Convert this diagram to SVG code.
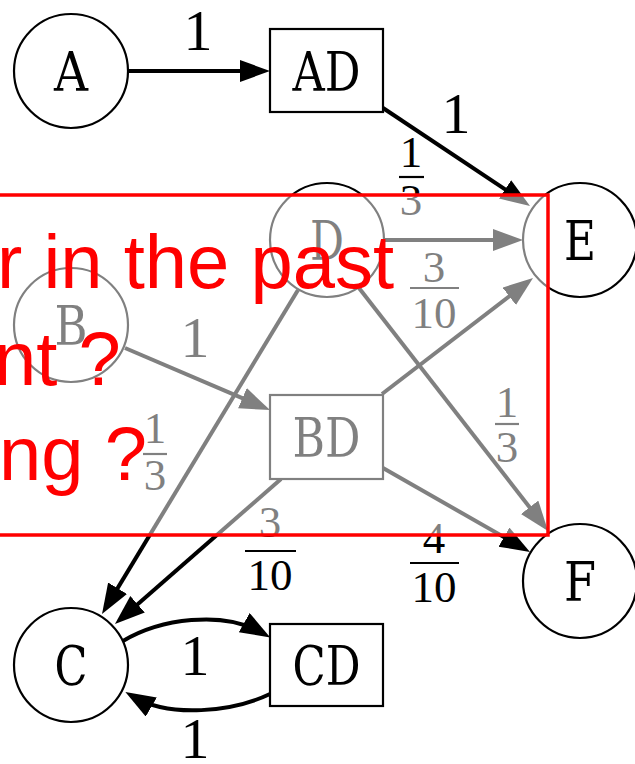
<svg xmlns="http://www.w3.org/2000/svg" width="635" height="764" viewBox="0 0 635 764">
<style>
.node circle, .node rect { fill: #fff; stroke: #000; stroke-width: 2.2; }
.node text { font-family: "DejaVu Serif", "Liberation Serif", serif; font-size: 54px; text-anchor: middle; fill: #000; }
.edge { fill: none; stroke: #000; stroke-width: 4; marker-end: url(#arrow); }
.lbl { font-family: "Liberation Serif", "DejaVu Serif", serif; fill: #000; text-anchor: middle; }
.big { font-size: 58px; }
.frac { font-size: 45px; }
.bar { stroke: #000; stroke-width: 2.2; }
.red { font-family: "Liberation Sans", Arial, sans-serif; font-size: 76px; fill: #ff0000; }
</style>
<defs>
<marker id="arrow" markerUnits="userSpaceOnUse" markerWidth="32" markerHeight="24" refX="20" refY="11" orient="auto">
<path d="M0,0 L30,11 L0,22 z" fill="#000"/>
</marker>
</defs>
<rect width="635" height="764" fill="#fff"/>
<g id="connectors">
<line class="edge" x1="128" y1="71" x2="260" y2="71"/>
<line class="edge" x1="383" y1="108" x2="521.7" y2="200.5"/>
<line class="edge" x1="384" y1="240" x2="513" y2="240"/>
<line class="edge" x1="382" y1="394" x2="525.1" y2="284.1"/>
<line class="edge" x1="359" y1="288" x2="541.9" y2="523.1"/>
<line class="edge" x1="383" y1="468" x2="521.3" y2="547"/>
<line class="edge" x1="298" y1="290" x2="107.2" y2="605.4"/>
<line class="edge" x1="281" y1="479" x2="122.5" y2="617.4"/>
<line class="edge" x1="125" y1="348" x2="260.8" y2="406.1"/>
<path class="edge" d="M123,641 C160,619 222,610 261.6,632.5"/>
<path class="edge" d="M270,694 C232,712 170,718 134,697"/>
<g id="edge-labels">
<text class="lbl big" x="198" y="50">1</text>
<text class="lbl big" x="456" y="133">1</text>
<text class="lbl frac" x="411" y="167">1</text>
<line class="bar" x1="399" y1="177" x2="424" y2="177"/>
<text class="lbl frac" x="411" y="215">3</text>
<text class="lbl frac" x="434" y="282">3</text>
<line class="bar" x1="410" y1="288" x2="459" y2="288"/>
<text class="lbl frac" x="434" y="328">10</text>
<text class="lbl frac" x="507" y="417">1</text>
<line class="bar" x1="495" y1="424" x2="519" y2="424"/>
<text class="lbl frac" x="507" y="462">3</text>
<text class="lbl frac" x="434" y="553">4</text>
<line class="bar" x1="410" y1="563" x2="459" y2="563"/>
<text class="lbl frac" x="434" y="602">10</text>
<text class="lbl frac" x="155" y="443">1</text>
<line class="bar" x1="143" y1="454" x2="167" y2="454"/>
<text class="lbl frac" x="155" y="490">3</text>
<text class="lbl frac" x="270" y="537">3</text>
<line class="bar" x1="245" y1="551" x2="296" y2="551"/>
<text class="lbl frac" x="270" y="590">10</text>
<text class="lbl big" x="195" y="357">1</text>
<text class="lbl big" x="195" y="675">1</text>
<text class="lbl big" x="195" y="758">1</text>
</g>
</g>
<g id="A" class="node"><circle cx="71" cy="71" r="57"/><text x="71" y="91" textLength="34" lengthAdjust="spacingAndGlyphs">A</text></g>
<g id="AD" class="node"><rect x="270" y="29" width="113" height="83"/><text x="326.5" y="91" textLength="68" lengthAdjust="spacingAndGlyphs">AD</text></g>
<g id="E" class="node"><circle cx="580" cy="240" r="57"/><text x="580" y="260" textLength="32" lengthAdjust="spacingAndGlyphs">E</text></g>
<g id="D" class="node"><circle cx="327" cy="240" r="57"/><text x="327" y="260" textLength="34" lengthAdjust="spacingAndGlyphs">D</text></g>
<g id="B" class="node"><circle cx="71" cy="325" r="57"/><text x="71" y="345" textLength="33" lengthAdjust="spacingAndGlyphs">B</text></g>
<g id="BD" class="node"><rect x="270" y="395" width="113" height="84"/><text x="326.5" y="457" textLength="68" lengthAdjust="spacingAndGlyphs">BD</text></g>
<g id="F" class="node"><circle cx="580" cy="581" r="57"/><text x="580" y="601" textLength="32" lengthAdjust="spacingAndGlyphs">F</text></g>
<g id="C" class="node"><circle cx="71" cy="665" r="57"/><text x="71" y="685" textLength="33" lengthAdjust="spacingAndGlyphs">C</text></g>
<g id="CD" class="node"><rect x="270" y="624" width="113" height="82"/><text x="326.5" y="685" textLength="68" lengthAdjust="spacingAndGlyphs">CD</text></g>
<g id="overlay">
<rect x="-5" y="195" width="553" height="340" fill="#fff" fill-opacity="0.5" stroke="#ff0000" stroke-width="3.5"/>
<text class="red" x="-3" y="288">r in the past</text>
<text class="red" x="-6" y="385">nt ?</text>
<text class="red" x="-1" y="480">ng ?</text>
</g>
</svg>
